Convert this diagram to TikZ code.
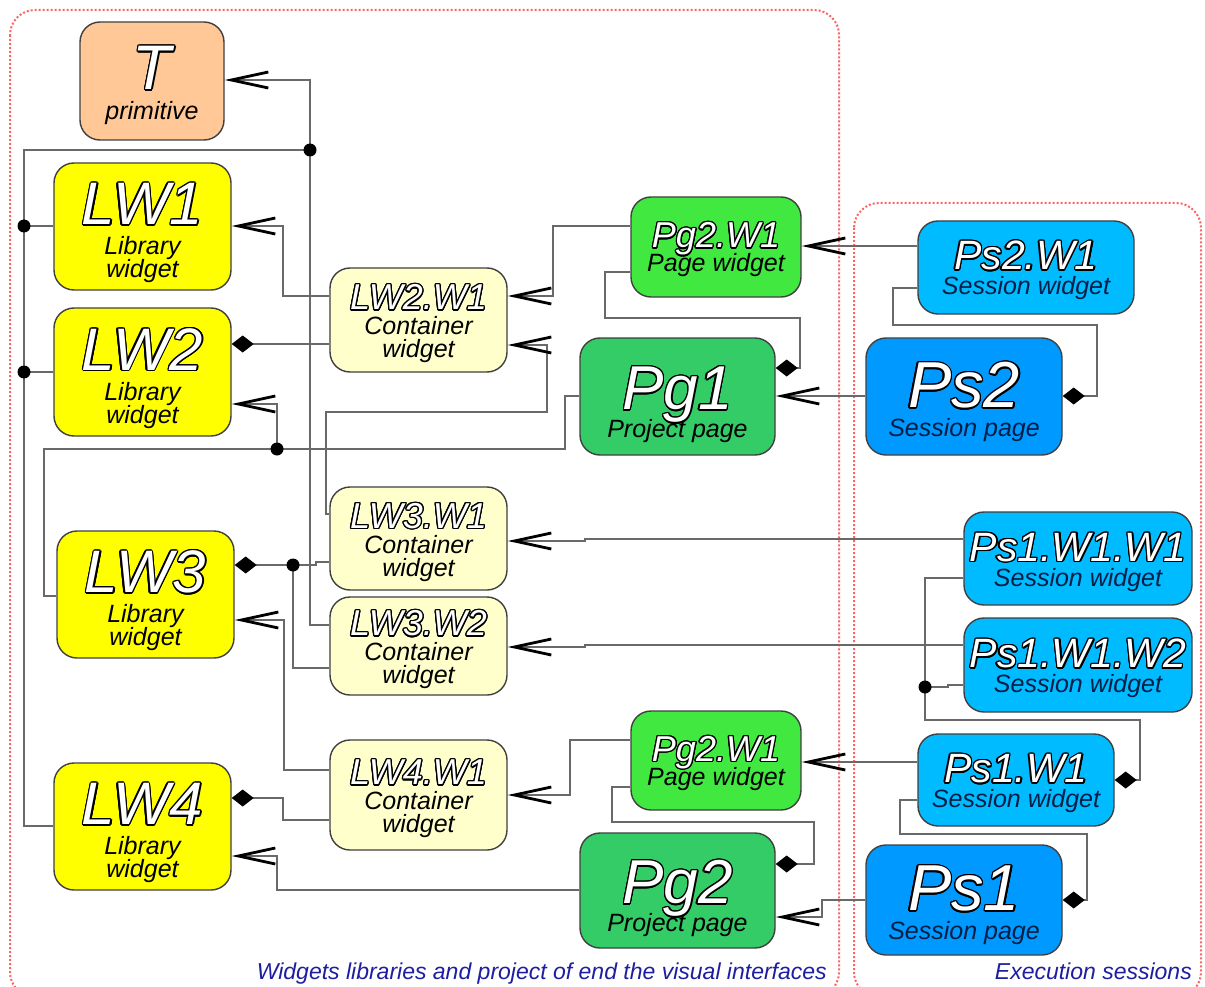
\documentclass[tikz,border=0pt]{standalone}
\usepackage{fontspec}
\setmainfont{Liberation Sans}
\usepackage{contour}
\contourlength{1.3pt}
\usetikzlibrary{arrows.meta}

\definecolor{cT}{RGB}{255,200,150}
\definecolor{cLW}{RGB}{255,255,0}
\definecolor{cLWW}{RGB}{255,255,204}
\definecolor{cPgW}{RGB}{64,232,64}
\definecolor{cPg}{RGB}{51,204,102}
\definecolor{cPsW}{RGB}{0,187,255}
\definecolor{cPs}{RGB}{0,153,255}
\definecolor{cline}{RGB}{105,105,105}
\definecolor{cborder}{RGB}{64,64,64}
\definecolor{cframe}{RGB}{255,100,100}
\definecolor{clabel}{RGB}{30,30,160}
\definecolor{csub}{RGB}{0,30,70}

\newcommand\ttl[3]{\raisebox{0pt}[#2pt][0pt]{\fontsize{#1}{#1}\selectfont\color{white}\contour{black}{#3}}}
\newcommand\nolskip{\lineskiplimit=-100pt\relax}

\tikzset{
  box/.style={draw=cborder, line width=1.4pt, rounded corners=20pt, align=center,
    inner sep=0pt, font=\itshape\fontsize{25}{23}\selectfont, execute at begin node=\nolskip},
  wire/.style={draw=cline, line width=2pt},
  uses/.style={wire, -{Straight Barb[length=37pt,width=16pt,line width=2.8pt,color=black]}},
  comp/.style={wire, -{Diamond[length=22pt,width=17pt,color=black]}},
  dot/.style={circle, fill=black, inner sep=0pt, minimum size=13pt},
  frame/.style={draw=cframe, line width=2pt, dash pattern=on 2pt off 2pt, rounded corners=25pt},
  flabel/.style={anchor=base east, inner sep=0pt, text=clabel, font=\itshape\fontsize{23}{23}\selectfont}
}

\begin{document}
\begin{tikzpicture}[x=1pt,y=-1pt]
\useasboundingbox (0,0) rectangle (1205,987);
\fill[white] (0,0) rectangle (1205,987);

% frames
\draw[frame] (10,10) rectangle (839,997);
\draw[frame] (854,203) rectangle (1201,997);
\node[flabel] (lblA) at (827,979) {Widgets libraries and project of end the visual interfaces};
\node[flabel] (lblB) at (1192,979) {Execution sessions};

% nodes
\node[box, fill=cT, minimum width=144pt, minimum height=118pt] (T) at (152,81) {\ttl{63}{53}{T}\\[7pt]primitive};

\node[box, fill=cLW, minimum width=177pt, minimum height=127pt] (LWa) at (142.5,226.5) {\ttl{60}{55}{LW1}\\[7pt]Library\\widget};
\node[box, fill=cLW, minimum width=177pt, minimum height=128pt] (LWb) at (142.5,372) {\ttl{60}{55}{LW2}\\[7pt]Library\\widget};
\node[box, fill=cLW, minimum width=177pt, minimum height=127pt] (LWc) at (145.5,594.5) {\ttl{60}{55}{LW3}\\[7pt]Library\\widget};
\node[box, fill=cLW, minimum width=177pt, minimum height=127pt] (LWd) at (142.5,826.5) {\ttl{60}{55}{LW4}\\[7pt]Library\\widget};

\node[box, fill=cLWW, minimum width=177pt, minimum height=104pt] (Ca) at (418.5,320) {\ttl{36}{33}{LW2.W1}\\[2pt]Container\\widget};
\node[box, fill=cLWW, minimum width=177pt, minimum height=103pt] (Cb) at (418.5,538.5) {\ttl{36}{33}{LW3.W1}\\[2pt]Container\\widget};
\node[box, fill=cLWW, minimum width=177pt, minimum height=98pt] (Cc) at (418.5,646) {\ttl{36}{33}{LW3.W2}\\[2pt]Container\\widget};
\node[box, fill=cLWW, minimum width=177pt, minimum height=110pt] (Cd) at (418.5,795) {\ttl{36}{33}{LW4.W1}\\[2pt]Container\\widget};

\node[box, fill=cPgW, minimum width=170pt, minimum height=100pt] (PWa) at (716,247) {\ttl{36}{31}{Pg2.W1}\\[1pt]Page widget};
\node[box, fill=cPgW, minimum width=170pt, minimum height=99pt] (PWb) at (716,760.5) {\ttl{36}{31}{Pg2.W1}\\[1pt]Page widget};

\node[box, fill=cPg, minimum width=195pt, minimum height=117pt] (Pga) at (677.5,396.5) {\ttl{62}{60}{Pg1}\\[5pt]Project page};
\node[box, fill=cPg, minimum width=195pt, minimum height=115pt] (Pgb) at (677.5,890.5) {\ttl{62}{60}{Pg2}\\[5pt]Project page};

\node[box, fill=cPsW, text=csub, minimum width=216pt, minimum height=93pt] (SWa) at (1026,267.5) {\ttl{41}{35}{Ps2.W1}\\[2pt]Session widget};
\node[box, fill=cPsW, text=csub, minimum width=228pt, minimum height=93pt] (SWb) at (1078,558.5) {\ttl{41}{36}{Ps1.W1.W1}\\[2pt]Session widget};
\node[box, fill=cPsW, text=csub, minimum width=228pt, minimum height=94pt] (SWc) at (1078,665) {\ttl{41}{36}{Ps1.W1.W2}\\[2pt]Session widget};
\node[box, fill=cPsW, text=csub, minimum width=196pt, minimum height=92pt] (SWd) at (1016,780) {\ttl{41}{36}{Ps1.W1}\\[2pt]Session widget};

\node[box, fill=cPs, text=csub, minimum width=196pt, minimum height=117pt] (Psa) at (964,396.5) {\ttl{65}{57}{Ps2}\\[6pt]Session page};
\node[box, fill=cPs, text=csub, minimum width=196pt, minimum height=110pt] (Psb) at (964,900) {\ttl{65}{56}{Ps1}\\[6pt]Session page};

% junction coordinates
\coordinate (J1) at (310,150);
\coordinate (J2) at (24,226);
\coordinate (J3) at (24,372);
\coordinate (J4) at (277,449);
\coordinate (J5) at (293,565);
\coordinate (J6) at (925,687);

% connectors (left frame)
\draw[uses] (Cc.west |- 0,625) -- (310,625) -- (J1) -- (310,80) -- (T.east |- 0,80);
\draw[wire] (LWd.west |- 0,826) -- (24,826) -- (24,150) -- (J1);
\draw[wire] (LWa.west |- 0,226) -- (J2);
\draw[wire] (LWb.west |- 0,372) -- (J3);
\draw[uses] (Ca.west |- 0,296) -- (283,296) -- (283,226) -- (LWa.east |- 0,226);
\draw[comp] (Ca.west |- 0,344) -- (LWb.east |- 0,344);
\draw[uses] (PWa.west |- 0,226) -- (553,226) -- (553,296) -- (Ca.east |- 0,296);
\draw[uses] (Cb.west |- 0,514) -- (326,514) -- (326,412) -- (547,412) -- (547,345) -- (Ca.east |- 0,345);
\draw[wire] (Pga.west |- 0,396) -- (565,396) -- (565,449) -- (44,449) -- (44,596) -- (LWc.west |- 0,596);
\draw[uses] (J4) -- (277,404) -- (LWb.east |- 0,404);
\draw[comp] (Cb.west |- 0,562) -- (316,562) -- (316,565) -- (LWc.east |- 0,565);
\draw[wire] (Cc.west |- 0,668) -- (293,668) -- (J5);
\draw[uses] (Cd.west |- 0,770) -- (284,770) -- (284,620) -- (LWc.east |- 0,620);
\draw[comp] (Cd.west |- 0,820) -- (283,820) -- (283,798) -- (LWd.east |- 0,798);
\draw[uses] (Pgb.west |- 0,890) -- (277,890) -- (277,856) -- (LWd.east |- 0,856);
\draw[uses] (PWb.west |- 0,740) -- (570,740) -- (570,795) -- (Cd.east |- 0,795);
\draw[comp] (PWb.west |- 0,787) -- (612,787) -- (612,822) -- (814,822) -- (814,864) -- (Pgb.east |- 0,864);
\draw[comp] (PWa.west |- 0,272) -- (605,272) -- (605,318) -- (800,318) -- (800,368) -- (Pga.east |- 0,368);

% connectors (sessions)
\draw[uses] (SWa.west |- 0,246) -- (PWa.east |- 0,246);
\draw[comp] (SWa.west |- 0,288) -- (893,288) -- (893,325) -- (1097,325) -- (1097,396) -- (Psa.east |- 0,396);
\draw[uses] (Psa.west |- 0,396) -- (Pga.east |- 0,396);
\draw[uses] (SWb.west |- 0,539) -- (585,539) -- (585,541) -- (Cb.east |- 0,541);
\draw[uses] (SWc.west |- 0,645) -- (585,645) -- (585,647) -- (Cc.east |- 0,647);
\draw[comp] (SWb.west |- 0,578) -- (925,578) -- (925,720) -- (1140,720) -- (1140,780) -- (SWd.east |- 0,780);
\draw[wire] (SWc.west |- 0,685) -- (948,685) -- (948,687) -- (J6);
\draw[uses] (SWd.west |- 0,762) -- (PWb.east |- 0,762);
\draw[comp] (SWd.west |- 0,800) -- (900,800) -- (900,834) -- (1087,834) -- (1087,900) -- (Psb.east |- 0,900);
\draw[uses] (Psb.west |- 0,900) -- (822,900) -- (822,917) -- (Pgb.east |- 0,917);

% junction dots
\foreach \j in {J1,J2,J3,J4,J5,J6} \node[dot] (d\j) at (\j) {};
\end{tikzpicture}
\end{document}
